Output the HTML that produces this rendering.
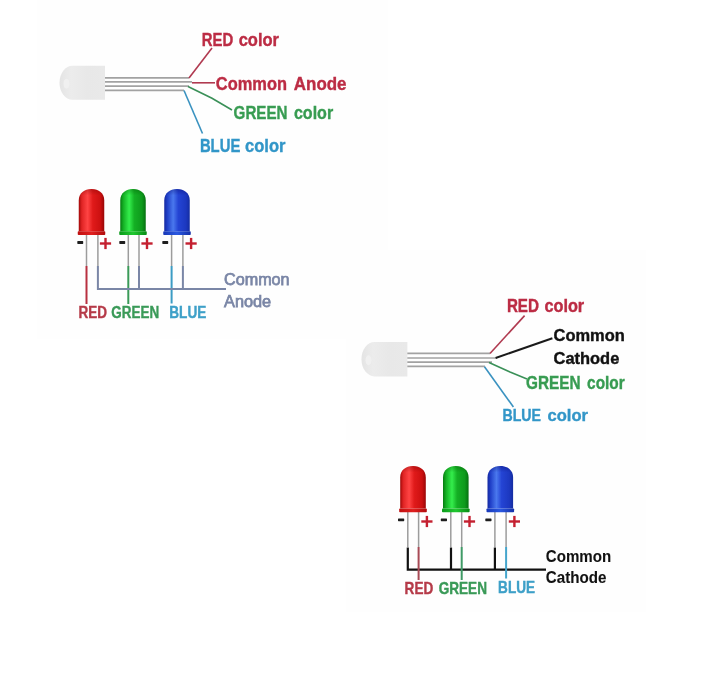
<!DOCTYPE html>
<html><head><meta charset="utf-8"><style>
html,body{margin:0;padding:0;background:#ffffff;width:718px;height:693px;overflow:hidden}
svg{display:block;filter:blur(0.35px)}
text{font-family:"Liberation Sans", sans-serif}
</style></head><body>
<svg width="718" height="693" viewBox="0 0 718 693">
<defs>
<linearGradient id="wled" x1="0" x2="1" y1="0" y2="0">
<stop offset="0" stop-color="#e4e4e4"/><stop offset="0.25" stop-color="#ececec"/><stop offset="0.6" stop-color="#e8e8e8"/><stop offset="1" stop-color="#e9e9e9"/></linearGradient>
<linearGradient id="rg" x1="0" x2="1"><stop offset="0" stop-color="#a00808"/><stop offset="0.12" stop-color="#e02424"/><stop offset="0.35" stop-color="#ff4444"/><stop offset="0.55" stop-color="#e01a1a"/><stop offset="0.85" stop-color="#cc1010"/><stop offset="1" stop-color="#980606"/></linearGradient>
<linearGradient id="gg" x1="0" x2="1"><stop offset="0" stop-color="#067a10"/><stop offset="0.12" stop-color="#14b024"/><stop offset="0.35" stop-color="#34ee4c"/><stop offset="0.55" stop-color="#14b024"/><stop offset="0.85" stop-color="#0e9a1c"/><stop offset="1" stop-color="#067010"/></linearGradient>
<linearGradient id="bg" x1="0" x2="1"><stop offset="0" stop-color="#1428a0"/><stop offset="0.12" stop-color="#2040c8"/><stop offset="0.35" stop-color="#4a78ee"/><stop offset="0.55" stop-color="#2444d4"/><stop offset="0.85" stop-color="#1c38c0"/><stop offset="1" stop-color="#142ca0"/></linearGradient>
<linearGradient id="rv" x1="0" x2="0" y1="0" y2="1"><stop offset="0" stop-color="#700000" stop-opacity="0.35"/><stop offset="0.15" stop-color="#700000" stop-opacity="0"/><stop offset="1" stop-color="#700000" stop-opacity="0"/></linearGradient>
<linearGradient id="gv" x1="0" x2="0" y1="0" y2="1"><stop offset="0" stop-color="#005000" stop-opacity="0.35"/><stop offset="0.15" stop-color="#005000" stop-opacity="0"/><stop offset="1" stop-color="#005000" stop-opacity="0"/></linearGradient>
<linearGradient id="bv" x1="0" x2="0" y1="0" y2="1"><stop offset="0" stop-color="#000060" stop-opacity="0.35"/><stop offset="0.15" stop-color="#000060" stop-opacity="0"/><stop offset="1" stop-color="#000060" stop-opacity="0"/></linearGradient>
<linearGradient id="rh" x1="0" x2="0" y1="0" y2="1"><stop offset="0" stop-color="#ff8080"/><stop offset="1" stop-color="#ff5050"/></linearGradient>
<linearGradient id="gh" x1="0" x2="0" y1="0" y2="1"><stop offset="0" stop-color="#90ff90"/><stop offset="1" stop-color="#50f060"/></linearGradient>
<linearGradient id="bh" x1="0" x2="0" y1="0" y2="1"><stop offset="0" stop-color="#90b0ff"/><stop offset="1" stop-color="#6a90ff"/></linearGradient>
<linearGradient id="rf" x1="0" x2="1"><stop offset="0" stop-color="#c01010"/><stop offset="0.5" stop-color="#e02020"/><stop offset="1" stop-color="#b00c0c"/></linearGradient>
<linearGradient id="gf" x1="0" x2="1"><stop offset="0" stop-color="#0a9a1a"/><stop offset="0.5" stop-color="#20c830"/><stop offset="1" stop-color="#088a14"/></linearGradient>
<linearGradient id="bf" x1="0" x2="1"><stop offset="0" stop-color="#1838b8"/><stop offset="0.5" stop-color="#2a58e0"/><stop offset="1" stop-color="#1430a8"/></linearGradient>
</defs>
<rect x="37" y="0" width="351" height="339" fill="#fefefe"/>
<rect x="346" y="250" width="300" height="362" fill="#fefefe"/>
<line x1="103" y1="77.9" x2="189" y2="77.9" stroke="#a2a2a2" stroke-width="1.7"/>
<line x1="103" y1="81.9" x2="192" y2="81.9" stroke="#a2a2a2" stroke-width="1.7"/>
<line x1="103" y1="86.2" x2="189" y2="86.2" stroke="#a2a2a2" stroke-width="1.7"/>
<line x1="103" y1="90.3" x2="184" y2="90.3" stroke="#a2a2a2" stroke-width="1.7"/>
<path d="M105,65.7 L72.5,65.7 A13,17.049999999999997 0 0 0 72.5,99.8 L105,99.8 Z" fill="url(#wled)"/>
<ellipse cx="66.5" cy="83.75" rx="3" ry="5" fill="#f0f0f0"/>
<line x1="189" y1="78" x2="212" y2="48" stroke="#b03a50" stroke-width="1.6"/>
<line x1="192" y1="82.8" x2="215" y2="82.8" stroke="#b03a50" stroke-width="1.6"/>
<polyline points="188,86.5 212,98.2 232,110" fill="none" stroke="#3a9058" stroke-width="1.6" stroke-linejoin="miter"/>
<line x1="184" y1="90.5" x2="202.5" y2="133.5" stroke="#3a92c0" stroke-width="1.6"/>
<text x="201.8" y="45.5" font-size="17.78" font-weight="bold" fill="#bc2c44" textLength="31.4" lengthAdjust="spacingAndGlyphs" stroke="#bc2c44" stroke-width="0.4">RED</text>
<text x="238.7" y="45.5" font-size="17.78" font-weight="bold" fill="#bc2c44" textLength="40.3" lengthAdjust="spacingAndGlyphs" stroke="#bc2c44" stroke-width="0.4">color</text>
<text x="215.8" y="90.1" font-size="18.96" font-weight="bold" fill="#bc2c44" textLength="71.2" lengthAdjust="spacingAndGlyphs" stroke="#bc2c44" stroke-width="0.4">Common</text>
<text x="293.8" y="90.1" font-size="18.96" font-weight="bold" fill="#bc2c44" textLength="52.7" lengthAdjust="spacingAndGlyphs" stroke="#bc2c44" stroke-width="0.4">Anode</text>
<text x="233.6" y="118.7" font-size="18.81" font-weight="bold" fill="#389c52" textLength="53.9" lengthAdjust="spacingAndGlyphs" stroke="#389c52" stroke-width="0.4">GREEN</text>
<text x="293.9" y="118.7" font-size="18.81" font-weight="bold" fill="#389c52" textLength="39.3" lengthAdjust="spacingAndGlyphs" stroke="#389c52" stroke-width="0.4">color</text>
<text x="199.9" y="151.5" font-size="18.96" font-weight="bold" fill="#3296c8" textLength="40.4" lengthAdjust="spacingAndGlyphs" stroke="#3296c8" stroke-width="0.4">BLUE</text>
<text x="245.1" y="151.5" font-size="18.96" font-weight="bold" fill="#3296c8" textLength="40.4" lengthAdjust="spacingAndGlyphs" stroke="#3296c8" stroke-width="0.4">color</text>
<line x1="86.5" y1="234" x2="86.5" y2="266" stroke="#9c9c9c" stroke-width="1.5"/>
<line x1="97.9" y1="234" x2="97.9" y2="266" stroke="#9c9c9c" stroke-width="1.5"/>
<line x1="128.3" y1="234" x2="128.3" y2="266" stroke="#9c9c9c" stroke-width="1.5"/>
<line x1="139" y1="234" x2="139" y2="266" stroke="#9c9c9c" stroke-width="1.5"/>
<line x1="171.6" y1="234" x2="171.6" y2="266" stroke="#9c9c9c" stroke-width="1.5"/>
<line x1="182.9" y1="234" x2="182.9" y2="266" stroke="#9c9c9c" stroke-width="1.5"/>
<line x1="86.5" y1="266" x2="86.5" y2="304" stroke="#b83040" stroke-width="2"/>
<line x1="128.3" y1="266" x2="128.3" y2="304" stroke="#3a9a58" stroke-width="2"/>
<line x1="171.6" y1="266" x2="171.6" y2="303.5" stroke="#3c9cc4" stroke-width="2"/>
<polyline points="97.9,266 97.9,289.1 226,289.1" fill="none" stroke="#7a86a6" stroke-width="2" stroke-linejoin="miter"/>
<line x1="139" y1="266" x2="139" y2="289.1" stroke="#7a86a6" stroke-width="2"/>
<line x1="182.9" y1="266" x2="182.9" y2="289.1" stroke="#7a86a6" stroke-width="2"/>
<path d="M78.75,231.2 L78.75,200.475 C78.75,193.01625 84.4875,189 91.5,189 C98.5125,189 104.25,193.01625 104.25,200.475 L104.25,231.2 Z" fill="url(#rg)"/>
<path d="M78.75,231.2 L78.75,200.475 C78.75,193.01625 84.4875,189 91.5,189 C98.5125,189 104.25,193.01625 104.25,200.475 L104.25,231.2 Z" fill="url(#rv)"/>
<rect x="77.75" y="231.2" width="27.5" height="3.8" rx="0.8" fill="url(#rf)"/>
<path d="M120.25,231.2 L120.25,200.475 C120.25,193.01625 125.9875,189 133,189 C140.0125,189 145.75,193.01625 145.75,200.475 L145.75,231.2 Z" fill="url(#gg)"/>
<path d="M120.25,231.2 L120.25,200.475 C120.25,193.01625 125.9875,189 133,189 C140.0125,189 145.75,193.01625 145.75,200.475 L145.75,231.2 Z" fill="url(#gv)"/>
<rect x="119.25" y="231.2" width="27.5" height="3.8" rx="0.8" fill="url(#gf)"/>
<path d="M164.25,231.2 L164.25,200.475 C164.25,193.01625 169.9875,189 177,189 C184.0125,189 189.75,193.01625 189.75,200.475 L189.75,231.2 Z" fill="url(#bg)"/>
<path d="M164.25,231.2 L164.25,200.475 C164.25,193.01625 169.9875,189 177,189 C184.0125,189 189.75,193.01625 189.75,200.475 L189.75,231.2 Z" fill="url(#bv)"/>
<rect x="163.25" y="231.2" width="27.5" height="3.8" rx="0.8" fill="url(#bf)"/>
<rect x="77.3" y="241.1" width="5.9" height="2.8" rx="0.6" fill="#1e1e1e"/>
<rect x="119.3" y="241.1" width="5.9" height="2.8" rx="0.6" fill="#1e1e1e"/>
<rect x="162.3" y="241.1" width="5.9" height="2.8" rx="0.6" fill="#1e1e1e"/>
<rect x="99.9" y="242.3" width="11.2" height="2.4" fill="#c42030"/>
<rect x="104.3" y="237.9" width="2.4" height="11.2" fill="#c42030"/>
<rect x="141.4" y="242.3" width="11.2" height="2.4" fill="#c42030"/>
<rect x="145.8" y="237.9" width="2.4" height="11.2" fill="#c42030"/>
<rect x="185.5" y="242.3" width="11.2" height="2.4" fill="#c42030"/>
<rect x="189.9" y="237.9" width="2.4" height="11.2" fill="#c42030"/>
<text x="78.4" y="318.3" font-size="16.00" font-weight="bold" fill="#b53a48" textLength="28.5" lengthAdjust="spacingAndGlyphs" stroke="#b53a48" stroke-width="0.4">RED</text>
<text x="111.3" y="318.3" font-size="16.00" font-weight="bold" fill="#3a9a58" textLength="47.8" lengthAdjust="spacingAndGlyphs" stroke="#3a9a58" stroke-width="0.4">GREEN</text>
<text x="169.3" y="318.3" font-size="16.00" font-weight="bold" fill="#3ea0c8" textLength="37.0" lengthAdjust="spacingAndGlyphs" stroke="#3ea0c8" stroke-width="0.4">BLUE</text>
<text x="224.0" y="285.3" font-size="16.74" font-weight="normal" fill="#7a86a6" textLength="65.6" lengthAdjust="spacingAndGlyphs" stroke="#7a86a6" stroke-width="0.75">Common</text>
<text x="224.0" y="307.3" font-size="16.74" font-weight="normal" fill="#7a86a6" textLength="47.2" lengthAdjust="spacingAndGlyphs" stroke="#7a86a6" stroke-width="0.75">Anode</text>
<line x1="405.4" y1="353.4" x2="490" y2="353.4" stroke="#a2a2a2" stroke-width="1.7"/>
<line x1="405.4" y1="358" x2="497" y2="358" stroke="#a2a2a2" stroke-width="1.7"/>
<line x1="405.4" y1="362.2" x2="492" y2="362.2" stroke="#a2a2a2" stroke-width="1.7"/>
<line x1="405.4" y1="366.4" x2="485" y2="366.4" stroke="#a2a2a2" stroke-width="1.7"/>
<path d="M407.4,342 L374.5,342 A13,17.19999999999999 0 0 0 374.5,376.4 L407.4,376.4 Z" fill="url(#wled)"/>
<ellipse cx="368.5" cy="360.2" rx="3" ry="5" fill="#f0f0f0"/>
<line x1="490" y1="353.5" x2="524.6" y2="315.6" stroke="#b03a50" stroke-width="1.6"/>
<line x1="495.6" y1="358" x2="552.4" y2="338.2" stroke="#1a1a1a" stroke-width="2"/>
<polyline points="489,362.4 510,372 527,379" fill="none" stroke="#3a9058" stroke-width="1.6" stroke-linejoin="miter"/>
<line x1="484.5" y1="366.8" x2="513.4" y2="407" stroke="#3a92c0" stroke-width="1.6"/>
<text x="506.9" y="311.9" font-size="17.48" font-weight="bold" fill="#bc2c44" textLength="32.1" lengthAdjust="spacingAndGlyphs" stroke="#bc2c44" stroke-width="0.4">RED</text>
<text x="544.4" y="311.9" font-size="17.48" font-weight="bold" fill="#bc2c44" textLength="39.8" lengthAdjust="spacingAndGlyphs" stroke="#bc2c44" stroke-width="0.4">color</text>
<text x="553.5" y="340.5" font-size="16.89" font-weight="bold" fill="#111111" textLength="71.3" lengthAdjust="spacingAndGlyphs" stroke="#111111" stroke-width="0.4">Common</text>
<text x="553.5" y="364.1" font-size="17.19" font-weight="bold" fill="#111111" textLength="65.8" lengthAdjust="spacingAndGlyphs" stroke="#111111" stroke-width="0.4">Cathode</text>
<text x="526.0" y="388.9" font-size="17.48" font-weight="bold" fill="#389c52" textLength="54.5" lengthAdjust="spacingAndGlyphs" stroke="#389c52" stroke-width="0.4">GREEN</text>
<text x="587.1" y="388.9" font-size="17.48" font-weight="bold" fill="#389c52" textLength="37.6" lengthAdjust="spacingAndGlyphs" stroke="#389c52" stroke-width="0.4">color</text>
<text x="502.5" y="421.0" font-size="17.33" font-weight="bold" fill="#3296c8" textLength="38.5" lengthAdjust="spacingAndGlyphs" stroke="#3296c8" stroke-width="0.4">BLUE</text>
<text x="547.6" y="421.0" font-size="17.33" font-weight="bold" fill="#3296c8" textLength="40.4" lengthAdjust="spacingAndGlyphs" stroke="#3296c8" stroke-width="0.4">color</text>
<line x1="407.8" y1="511" x2="407.8" y2="547" stroke="#9c9c9c" stroke-width="1.5"/>
<line x1="418.6" y1="511" x2="418.6" y2="547" stroke="#9c9c9c" stroke-width="1.5"/>
<line x1="450.8" y1="511" x2="450.8" y2="547" stroke="#9c9c9c" stroke-width="1.5"/>
<line x1="461.7" y1="511" x2="461.7" y2="547" stroke="#9c9c9c" stroke-width="1.5"/>
<line x1="494.9" y1="511" x2="494.9" y2="547" stroke="#9c9c9c" stroke-width="1.5"/>
<line x1="506.1" y1="511" x2="506.1" y2="547" stroke="#9c9c9c" stroke-width="1.5"/>
<polyline points="407.8,547.5 407.8,569.6 546,569.6" fill="none" stroke="#111111" stroke-width="2.2" stroke-linejoin="miter"/>
<line x1="451" y1="547.5" x2="451" y2="569.6" stroke="#111111" stroke-width="2.2"/>
<line x1="494.9" y1="547.5" x2="494.9" y2="569.6" stroke="#111111" stroke-width="2.2"/>
<line x1="418.6" y1="547" x2="418.6" y2="580" stroke="#a84a55" stroke-width="2"/>
<line x1="461.7" y1="547" x2="461.7" y2="580" stroke="#3f9a66" stroke-width="2"/>
<line x1="506.1" y1="547" x2="506.1" y2="578.5" stroke="#45a5cc" stroke-width="2"/>
<path d="M400.2,508.40000000000003 L400.2,477.52 C400.2,470.032 405.96,466 413,466 C420.04,466 425.8,470.032 425.8,477.52 L425.8,508.40000000000003 Z" fill="url(#rg)"/>
<path d="M400.2,508.40000000000003 L400.2,477.52 C400.2,470.032 405.96,466 413,466 C420.04,466 425.8,470.032 425.8,477.52 L425.8,508.40000000000003 Z" fill="url(#rv)"/>
<rect x="399.2" y="508.40000000000003" width="27.6" height="3.8" rx="0.8" fill="url(#rf)"/>
<path d="M443.0,508.40000000000003 L443.0,477.52 C443.0,470.032 448.76,466 455.8,466 C462.84000000000003,466 468.6,470.032 468.6,477.52 L468.6,508.40000000000003 Z" fill="url(#gg)"/>
<path d="M443.0,508.40000000000003 L443.0,477.52 C443.0,470.032 448.76,466 455.8,466 C462.84000000000003,466 468.6,470.032 468.6,477.52 L468.6,508.40000000000003 Z" fill="url(#gv)"/>
<rect x="442.0" y="508.40000000000003" width="27.6" height="3.8" rx="0.8" fill="url(#gf)"/>
<path d="M487.5,508.40000000000003 L487.5,477.52 C487.5,470.032 493.26,466 500.3,466 C507.34000000000003,466 513.1,470.032 513.1,477.52 L513.1,508.40000000000003 Z" fill="url(#bg)"/>
<path d="M487.5,508.40000000000003 L487.5,477.52 C487.5,470.032 493.26,466 500.3,466 C507.34000000000003,466 513.1,470.032 513.1,477.52 L513.1,508.40000000000003 Z" fill="url(#bv)"/>
<rect x="486.5" y="508.40000000000003" width="27.6" height="3.8" rx="0.8" fill="url(#bf)"/>
<rect x="398.0" y="518.4" width="6.200000000000012" height="2.8" rx="0.6" fill="#1e1e1e"/>
<rect x="440.8" y="518.4" width="6.200000000000012" height="2.8" rx="0.6" fill="#1e1e1e"/>
<rect x="485.3" y="518.4" width="6.200000000000012" height="2.8" rx="0.6" fill="#1e1e1e"/>
<rect x="421.29999999999995" y="520.3" width="11.2" height="2.4" fill="#c42030"/>
<rect x="425.7" y="515.9" width="2.4" height="11.2" fill="#c42030"/>
<rect x="463.9" y="520.3" width="11.2" height="2.4" fill="#c42030"/>
<rect x="468.3" y="515.9" width="2.4" height="11.2" fill="#c42030"/>
<rect x="508.79999999999995" y="520.3" width="11.2" height="2.4" fill="#c42030"/>
<rect x="513.1999999999999" y="515.9" width="2.4" height="11.2" fill="#c42030"/>
<text x="404.6" y="593.5" font-size="15.70" font-weight="bold" fill="#b53a48" textLength="28.6" lengthAdjust="spacingAndGlyphs" stroke="#b53a48" stroke-width="0.4">RED</text>
<text x="438.7" y="593.5" font-size="15.70" font-weight="bold" fill="#3a9a58" textLength="48.3" lengthAdjust="spacingAndGlyphs" stroke="#3a9a58" stroke-width="0.4">GREEN</text>
<text x="498.1" y="593.2" font-size="15.70" font-weight="bold" fill="#3ea0c8" textLength="36.9" lengthAdjust="spacingAndGlyphs" stroke="#3ea0c8" stroke-width="0.4">BLUE</text>
<text x="545.8" y="561.7" font-size="16.59" font-weight="bold" fill="#111111" textLength="65.3" lengthAdjust="spacingAndGlyphs" stroke="#111111" stroke-width="0.1">Common</text>
<text x="545.8" y="582.5" font-size="16.00" font-weight="bold" fill="#111111" textLength="60.6" lengthAdjust="spacingAndGlyphs" stroke="#111111" stroke-width="0.1">Cathode</text>
</svg>
</body></html>
